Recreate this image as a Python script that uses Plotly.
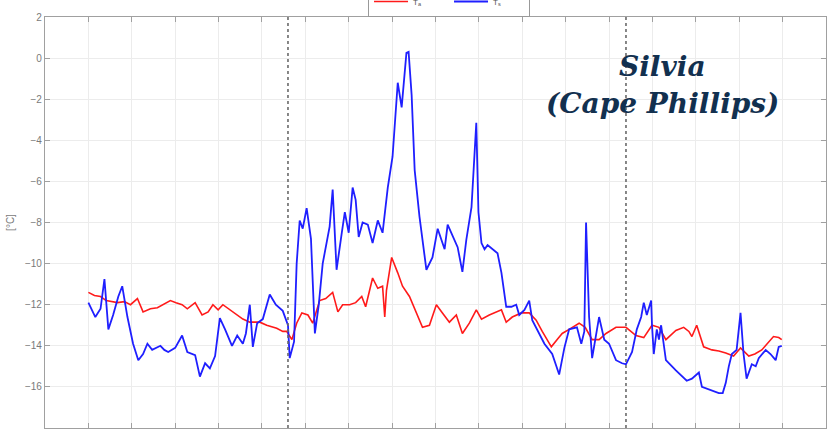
import plotly.graph_objects as go

# Time axis (days from start of record) and temperatures in °C
blue_x = [0, 0.09, 0.16, 0.28, 0.37, 0.46, 0.57, 0.69, 0.78, 0.90, 1.03, 1.15, 1.26, 1.36, 1.47,
          1.66, 1.75, 1.84, 2.00, 2.16, 2.28, 2.46, 2.57, 2.69, 2.80, 2.92, 3.03, 3.15, 3.31, 3.43,
          3.56, 3.63, 3.72, 3.79, 3.89, 4.02, 4.18, 4.32, 4.48, 4.60, 4.64, 4.74, 4.80, 4.87, 4.94,
          5.03, 5.13, 5.22, 5.31, 5.40, 5.56, 5.63, 5.72, 5.84, 5.91, 6.00, 6.09, 6.16, 6.23, 6.32,
          6.44, 6.55, 6.67, 6.78, 6.90, 7.01, 7.13, 7.22, 7.26, 7.33, 7.38, 7.45, 7.52, 7.63, 7.79,
          7.93, 8.05, 8.21, 8.28, 8.44, 8.51, 8.62, 8.71, 8.83, 8.87, 8.94, 8.99, 9.06, 9.13, 9.20,
          9.43, 9.52, 9.63, 9.75, 9.86, 9.93, 10.05, 10.16, 10.23, 10.39, 10.51, 10.69, 10.85, 10.97,
          11.08, 11.26, 11.36, 11.43, 11.47, 11.54, 11.61, 11.77, 11.89, 12.00, 12.16, 12.30, 12.39,
          12.53, 12.64, 12.74, 12.80, 12.87, 12.97, 12.99, 13.03, 13.10, 13.15, 13.20, 13.31, 13.54,
          13.79, 13.91, 14.07, 14.14, 14.34, 14.53, 14.62, 14.69, 14.76, 14.83, 14.94, 15.03, 15.10,
          15.17, 15.29, 15.38, 15.45, 15.61, 15.72, 15.84, 15.91, 15.98]
blue_t = [-11.9, -12.3, -12.6, -12.2, -10.75, -13.2, -12.5, -11.6, -11.1, -12.6, -13.9, -14.7, -14.4,
          -13.9, -14.2, -14.0, -14.2, -14.3, -14.1, -13.5, -14.3, -14.45, -15.5, -14.85, -15.1, -14.5,
          -12.65, -13.2, -14.0, -13.5, -13.9, -13.4, -12.0, -14.05, -12.9, -12.7, -11.5, -12.0, -12.3,
          -13.0, -14.6, -13.8, -10.0, -7.9, -8.3, -7.3, -8.8, -13.4, -12.0, -10.0, -8.2, -6.4, -10.3,
          -8.5, -7.5, -8.5, -6.3, -6.9, -8.7, -8.0, -8.1, -9.0, -7.9, -8.5, -6.3, -4.8, -1.2, -2.4,
          -1.5, 0.25, 0.3, -1.8, -5.45, -7.7, -10.3, -9.7, -8.3, -9.3, -8.1, -8.85, -9.2, -10.4,
          -8.85, -7.25, -5.6, -3.15, -7.5, -9.0, -9.3, -9.1, -9.5, -10.45, -12.1, -12.1, -12.0,
          -12.5, -12.25, -11.8, -12.75, -13.4, -13.9, -14.4, -15.4, -14.1, -13.2, -13.1, -13.9,
          -13.3, -8.0, -12.6, -14.6, -12.6, -13.7, -13.9, -14.7, -14.85, -14.9, -14.3, -13.2, -12.6,
          -11.9, -12.5, -11.8, -13.0, -14.4, -13.2, -13.7, -13.0, -14.7, -15.2, -15.7, -15.6, -15.3,
          -16.0, -16.15, -16.3, -16.3, -15.8, -15.0, -14.4, -14.2, -12.4, -14.4, -15.6, -14.9, -15.0,
          -14.6, -14.2, -14.4, -14.7, -14.05, -14.0]

red_x = [0, 0.14, 0.28, 0.41, 0.67, 0.83, 0.97, 1.13, 1.26, 1.43, 1.59, 1.72, 1.89, 2.02, 2.16,
         2.28, 2.46, 2.62, 2.76, 2.87, 2.99, 3.10, 3.26, 3.43, 3.56, 3.72, 3.95, 4.11, 4.34, 4.48,
         4.57, 4.69, 4.80, 4.92, 5.06, 5.17, 5.33, 5.47, 5.63, 5.75, 5.86, 6.02, 6.16, 6.30, 6.39,
         6.55, 6.67, 6.78, 6.83, 6.87, 6.99, 7.13, 7.24, 7.40, 7.56, 7.70, 7.86, 8.02, 8.16, 8.32,
         8.48, 8.62, 8.78, 8.94, 9.06, 9.24, 9.52, 9.63, 9.77, 9.98, 10.16, 10.32, 10.46, 10.67,
         10.80, 10.92, 11.08, 11.31, 11.45, 11.61, 11.77, 11.93, 12.16, 12.39, 12.62, 12.80, 12.99,
         13.15, 13.31, 13.54, 13.72, 13.84, 13.91, 14.02, 14.18, 14.37, 14.53, 14.69, 14.87, 15.03,
         15.22, 15.36, 15.52, 15.68, 15.79, 15.91, 15.98]
red_t = [-11.4, -11.55, -11.6, -11.8, -11.9, -11.85, -12.0, -11.7, -12.35, -12.2, -12.15, -12.0,
         -11.8, -11.9, -12.0, -12.2, -11.9, -12.5, -12.35, -12.0, -12.25, -12.0, -12.25, -12.5,
         -12.7, -12.85, -12.85, -13.0, -13.15, -13.3, -13.3, -13.7, -12.9, -12.4, -12.5, -12.9,
         -11.8, -11.7, -11.4, -12.35, -12.0, -12.0, -11.9, -11.6, -12.1, -10.7, -11.2, -11.1, -12.6,
         -11.3, -9.7, -10.45, -11.1, -11.6, -12.4, -13.1, -13.0, -12.0, -12.4, -12.85, -12.5, -13.4,
         -12.9, -12.25, -12.7, -12.5, -12.25, -12.85, -12.6, -12.4, -12.4, -12.75, -13.3, -14.05,
         -13.7, -13.4, -13.2, -12.9, -13.1, -13.7, -13.7, -13.4, -13.1, -13.1, -13.5, -13.6, -13.0,
         -13.1, -13.7, -13.25, -13.1, -13.3, -13.55, -13.0, -14.05, -14.2, -14.25, -14.35, -14.5,
         -14.1, -14.5, -14.4, -14.2, -13.8, -13.55, -13.6, -13.7]

event_days = [4.60, 12.39]
y_ticks = [-18, -16, -14, -12, -10, -8, -6, -4, -2, 0, 2]
series_names = ["T<sub>a</sub>", "T<sub>s</sub>"]
station_lines = ["<b><i>Silvia</i></b>", "<b><i>(Cape Phillips)</i></b>"]

fig = go.Figure()
fig.add_trace(go.Scatter(x=red_x, y=red_t, mode="lines", name=series_names[0],
                         line=dict(color="#ff1a1a", width=1.6)))
fig.add_trace(go.Scatter(x=blue_x, y=blue_t, mode="lines", name=series_names[1],
                         line=dict(color="#1f1fff", width=1.8)))

# dotted markers for the event window
for d in event_days:
    fig.add_shape(type="line", xref="x", yref="paper", x0=d, x1=d, y0=0, y1=1,
                  line=dict(color="#6a6a6a", width=1.6, dash="dot"))

# station label, two centred lines
for text, ypos in zip(station_lines, [-0.4, -2.2]):
    fig.add_annotation(x=13.24, y=ypos, xref="x", yref="y", showarrow=False, text=text,
                       font=dict(family="DejaVu Serif", size=28, color="#12304f"))

axis_common = dict(showline=True, linecolor="#a0a0a0", linewidth=1.2, mirror="ticks",
                   ticks="inside", ticklen=5, tickcolor="#a0a0a0",
                   gridcolor="#ececec", gridwidth=1, zeroline=False)

fig.update_layout(
    width=832, height=433,
    margin=dict(l=45, r=6, t=17, b=5, autoexpand=False),
    plot_bgcolor="white", paper_bgcolor="white",
    font=dict(family="Liberation Sans", color="#7a7a7a", size=10),
    showlegend=True,
    legend=dict(orientation="h", x=0.4136, xanchor="left", y=1.0, yanchor="bottom",
                bordercolor="#999999", borderwidth=1, bgcolor="white",
                font=dict(size=8, color="#555555"),
                entrywidth=31, entrywidthmode="pixels", itemwidth=34),
    xaxis=dict(range=[-1, 17], dtick=1, tick0=0, showticklabels=False, **axis_common),
    yaxis=dict(range=[-18, 2], tickvals=y_ticks, title=dict(text="[°C]", standoff=8,
               font=dict(size=10, color="#7a7a7a")), **axis_common),
)

fig.write_html("out.html")
